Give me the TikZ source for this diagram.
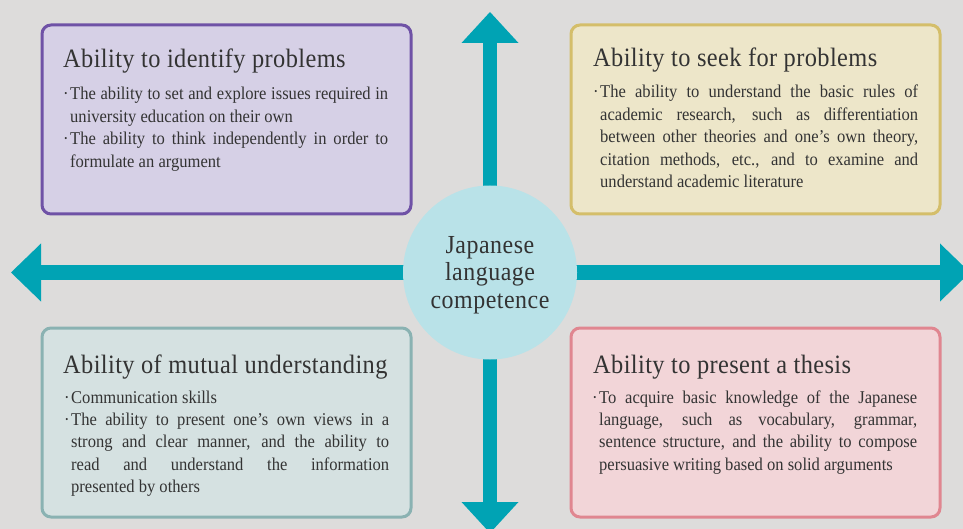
\documentclass[tikz,border=0pt]{standalone}
\usepackage{fontspec}
\setmainfont{Liberation Serif}[FakeStretch=0.92]
\newfontfamily\ttlfont{Liberation Serif}[FakeStretch=0.92,LetterSpace=1.5]
\newfontfamily\hubfont{Liberation Serif}[FakeStretch=0.92,LetterSpace=2]
\usetikzlibrary{arrows.meta}
\definecolor{bgc}{HTML}{DDDCDB}
\definecolor{arrc}{HTML}{00A3B4}
\definecolor{hubc}{HTML}{B9E2E8}
\definecolor{txtc}{HTML}{333333}
\definecolor{pf}{HTML}{D6D0E6}\definecolor{pd}{HTML}{6F52A6}
\definecolor{yf}{HTML}{EDE6C9}\definecolor{yd}{HTML}{D4BE6A}
\definecolor{gf}{HTML}{D5E1E1}\definecolor{gd}{HTML}{8AB2B2}
\definecolor{rf}{HTML}{F2D5D8}\definecolor{rd}{HTML}{E08690}
\pgfdeclarelayer{bglayer}
\pgfdeclarelayer{arrowlayer}
\pgfsetlayers{bglayer,arrowlayer,main}
\newcommand\JL[1]{\makebox[318pt][s]{#1}\\}
\newcommand\BU{\leavevmode\llap{\textperiodcentered\hspace{1.5pt}}}
\newcommand\BodyText[1]{\parbox[t]{318pt}{\fontsize{18}{22.4}\selectfont #1}}
\begin{document}
\begin{tikzpicture}[x=1pt,y=-1pt,
  card/.style={rectangle, rounded corners=9pt, line width=3pt, minimum width=369pt, minimum height=189pt, inner sep=0pt, outer sep=0pt},
  ttl/.style={anchor=base west, inner sep=0pt, text=txtc, font=\ttlfont\fontsize{26.5}{30}\selectfont},
  bdy/.style={anchor=base west, inner sep=0pt, text=txtc},
  hub/.style={circle, minimum size=174pt, inner sep=0pt, fill=hubc},
  hubtext/.style={inner sep=0pt, text=txtc, align=center, font=\hubfont\fontsize{26}{27.5}\selectfont},
  vaxis/.style={draw=arrc, line width=14pt, -{Triangle[width=57pt,length=31pt,line width=0pt]}},
  haxis/.style={draw=arrc, line width=15pt, -{Triangle[width=58pt,length=30pt,line width=0pt]}}]
\useasboundingbox (0,0) rectangle (963,529);
\begin{pgfonlayer}{bglayer}
\fill[bgc] (0,0) rectangle (963,529);
\end{pgfonlayer}
\node[hub] (c) at (490,272.5) {};
\node[hubtext] (ct) at ([yshift=-2.5pt]c.center) {Japanese\\language\\competence};
\coordinate (tT) at (490,12);
\coordinate (tB) at (490,533);
\coordinate (tL) at (11,272.5);
\coordinate (tR) at (970,272.5);
\begin{pgfonlayer}{arrowlayer}
\draw[vaxis] (c.center) -- (tT);
\draw[vaxis] (c.center) -- (tB);
\draw[haxis] (c.center) -- (tL);
\draw[haxis] (c.center) -- (tR);
\end{pgfonlayer}
\node[card, draw=pd, fill=pf] (b1) at (226.5,119.5) {};
\node[card, draw=yd, fill=yf] (b2) at (755.5,119.5) {};
\node[card, draw=gd, fill=gf] (b3) at (226.5,422.5) {};
\node[card, draw=rd, fill=rf] (b4) at (755.5,422.5) {};
\node[ttl] (t1) at (63,68) {Ability to identify problems};
\node[ttl] (t2) at (593,67) {Ability to seek for problems};
\node[ttl] (t3) at (63,373) {Ability of mutual understanding};
\node[ttl] (t4) at (593,373) {Ability to present a thesis};
\node[bdy] (d1) at (70,100) {\BodyText{%
\BU\JL{The ability to set and explore issues required in}
university education on their own\\
\BU\JL{The ability to think independently in order to}
formulate an argument}};
\node[bdy] (d2) at (600,98) {\BodyText{%
\BU\JL{The ability to understand the basic rules of}
\JL{academic research, such as differentiation}
\JL{between other theories and one’s own theory,}
\JL{citation methods, etc., and to examine and}
understand academic literature}};
\node[bdy] (d3) at (71,403) {\BodyText{%
\BU Communication skills\\
\BU\JL{The ability to present one’s own views in a}
\JL{strong and clear manner, and the ability to}
\JL{read and understand the information}
presented by others}};
\node[bdy] (d4) at (599,403) {\BodyText{%
\BU\JL{To acquire basic knowledge of the Japanese}
\JL{language, such as vocabulary, grammar,}
\JL{sentence structure, and the ability to compose}
persuasive writing based on solid arguments}};
\end{tikzpicture}
\end{document}
